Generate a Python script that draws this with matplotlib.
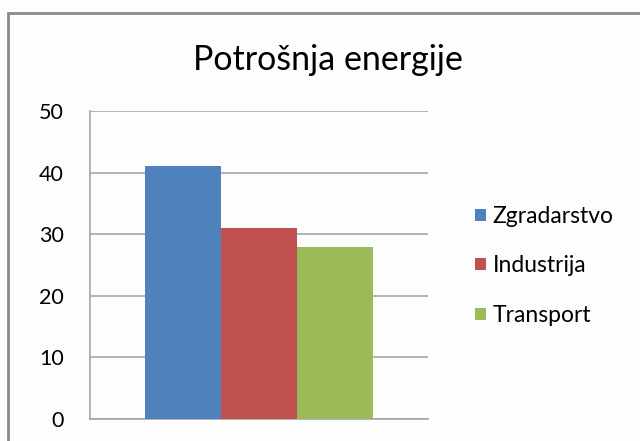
import matplotlib
matplotlib.use('Agg')
import matplotlib.pyplot as plt
from matplotlib.patches import Rectangle

# podaci
series = ['Zgradarstvo', 'Industrija', 'Transport']
values = [41, 31, 28]
colors = ['#4f81bd', '#c0504d', '#9bbb59']
y_ticks = [0, 10, 20, 30, 40, 50]

plt.rcParams['font.family'] = ['Lato', 'DejaVu Sans']

W, H = 640, 441
fig = plt.figure(figsize=(W / 100, H / 100), dpi=100)
fig.patch.set_facecolor('#fdfdfd')

# okvir grafa (gornji i lijevi rub vidljivi)
fig.patches.append(Rectangle((8 / W, -0.1), 1.2, 1.1 - 13 / H, transform=fig.transFigure,
                             fill=False, edgecolor='#8a8a8a', lw=2, zorder=0))

ax = fig.add_axes([90 / W, 1 - 419 / H, (428 - 90) / W, (419 - 111) / H])
ax.set_facecolor('#fdfdfd')

pos = [-1, 0, 1]
for p, v, c, s in zip(pos, values, colors, series):
    ax.bar(p, v, width=1.0, color=c, label=s, zorder=3)

ax.set_xlim(-2.22, 2.22)
ax.set_ylim(0, 50)
ax.set_yticks(y_ticks)
ax.set_xticks([])
ax.yaxis.grid(True, color='#a6a6a6', lw=1.2, zorder=1)
ax.tick_params(axis='y', length=0, pad=19, labelsize=15.5, labelcolor='#000000')
for side in ['top', 'right']:
    ax.spines[side].set_visible(False)
ax.spines['left'].set_color('#a6a6a6')
ax.spines['bottom'].set_color('#a6a6a6')
ax.spines['left'].set_linewidth(1.2)
ax.spines['bottom'].set_linewidth(1.2)

fig.text(328 / W, 1 - 60 / H, 'Potrošnja energije', ha='center', va='center',
         fontsize=24.5, color='#000000')

fig.legend(loc='center left', bbox_to_anchor=(464 / W, 1 - 266 / H), frameon=False,
           fontsize=16.5, handlelength=0.45, handleheight=0.45, handletextpad=0.3,
           labelspacing=1.25, borderpad=0)

fig.savefig('out.png', dpi=100, facecolor=fig.get_facecolor())
